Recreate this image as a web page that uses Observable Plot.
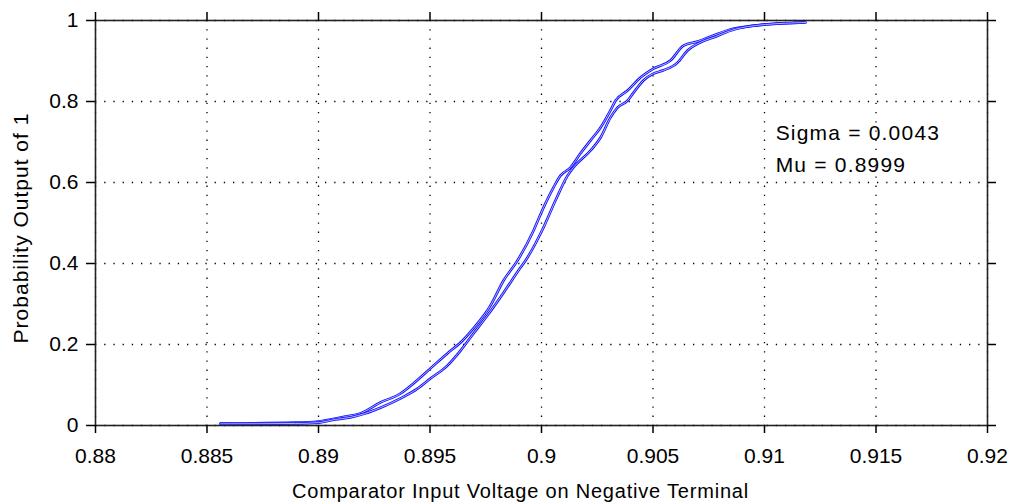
<!DOCTYPE html>
<html>
<head>
<meta charset="utf-8">
<script src="https://cdn.jsdelivr.net/npm/d3@7"></script>
<script src="https://cdn.jsdelivr.net/npm/@observablehq/plot@0.6"></script>
<style>
  html, body { margin: 0; padding: 0; background: #fff; }
  #chart { width: 1010px; height: 504px; }
</style>
</head>
<body>
<div id="chart"></div>
<script>
// ---- data ----
const xTicks = [0.88, 0.885, 0.89, 0.895, 0.9, 0.905, 0.91, 0.915, 0.92];
const xTickLabels = ["0.88", "0.885", "0.89", "0.895", "0.9", "0.905", "0.91", "0.915", "0.92"];
const yTicks = [0, 0.2, 0.4, 0.6, 0.8, 1];
const yTickLabels = ["0", "0.2", "0.4", "0.6", "0.8", "1"];

const upperX = [0.88561, 0.88897, 0.89000, 0.89054, 0.89121, 0.89188, 0.89278, 0.89368, 0.89426, 0.89502,
  0.89578, 0.89637, 0.89695, 0.89771, 0.89830, 0.89892, 0.89964, 0.90009, 0.90054, 0.90085,
  0.90130, 0.90175, 0.90220, 0.90265, 0.90309, 0.90332, 0.90386, 0.90444, 0.90502, 0.90578,
  0.90637, 0.90700, 0.90771, 0.90848, 0.90924, 0.90996, 0.91175];
const upperY = [0.005, 0.007, 0.010, 0.015, 0.022, 0.030, 0.057, 0.079, 0.104, 0.141,
  0.178, 0.205, 0.240, 0.296, 0.358, 0.407, 0.481, 0.538, 0.588, 0.617,
  0.637, 0.672, 0.704, 0.736, 0.778, 0.802, 0.827, 0.859, 0.881, 0.901,
  0.938, 0.948, 0.963, 0.978, 0.985, 0.990, 0.995];

const lowerX = [0.88561, 0.88897, 0.89000, 0.89076, 0.89143, 0.89211, 0.89278, 0.89368, 0.89444, 0.89502,
  0.89578, 0.89637, 0.89695, 0.89758, 0.89830, 0.89906, 0.89928, 0.90009, 0.90063, 0.90117,
  0.90143, 0.90220, 0.90265, 0.90309, 0.90341, 0.90386, 0.90413, 0.90457, 0.90502, 0.90547,
  0.90610, 0.90655, 0.90713, 0.90780, 0.90848, 0.90924, 0.91004, 0.91184];
const lowerY = [0.004, 0.005, 0.007, 0.015, 0.020, 0.030, 0.044, 0.067, 0.091, 0.116,
  0.148, 0.185, 0.227, 0.272, 0.328, 0.390, 0.407, 0.489, 0.556, 0.617,
  0.637, 0.679, 0.711, 0.760, 0.785, 0.802, 0.822, 0.852, 0.869, 0.877,
  0.896, 0.926, 0.946, 0.960, 0.975, 0.985, 0.990, 0.995];

const annoText = ["Sigma = 0.0043", "Mu = 0.8999"];
const annoX = [0.9105, 0.9105];
const annoY = [0.722, 0.642];

const xTitle = "Comparator Input Voltage on Negative Terminal";
const yTitle = "Probability Output of 1";

// ---- build tables ----
const upper = upperX.map((x, i) => ({x, y: upperY[i]}));
const lower = lowerX.map((x, i) => ({x, y: lowerY[i]}));
const anno = annoText.map((t, i) => ({t, x: annoX[i], y: annoY[i]}));
const xFmt = d => xTickLabels[xTicks.findIndex(v => Math.abs(v - d) < 1e-9)];
const yFmt = d => yTickLabels[yTicks.findIndex(v => Math.abs(v - d) < 1e-9)];

const font = "'Liberation Sans', Arial, Helvetica, sans-serif";

const chart = Plot.plot({
  width: 1010,
  height: 504,
  marginLeft: 95,
  marginRight: 23,
  marginTop: 20,
  marginBottom: 79,
  style: {fontFamily: font, fontSize: "21px", background: "#fff", color: "#000", overflow: "visible"},
  x: {domain: [0.88, 0.92], label: null},
  y: {domain: [0, 1], label: null},
  marks: [
    Plot.gridX(xTicks, {stroke: "#000", strokeOpacity: 1, strokeWidth: 1.3, strokeDasharray: "1.3,7.9"}),
    Plot.gridY(yTicks, {stroke: "#000", strokeOpacity: 1, strokeWidth: 1.3, strokeDasharray: "1.3,7.9"}),
    Plot.line(upper, {x: "x", y: "y", stroke: "#1010ff", strokeWidth: 2.6, curve: "monotone-x"}),
    Plot.line(upper, {x: "x", y: "y", stroke: "#c8c8ff", strokeWidth: 0.9, curve: "monotone-x"}),
    Plot.line(lower, {x: "x", y: "y", stroke: "#1010ff", strokeWidth: 2.6, curve: "monotone-x"}),
    Plot.line(lower, {x: "x", y: "y", stroke: "#c8c8ff", strokeWidth: 0.9, curve: "monotone-x"}),
    Plot.frame({stroke: "#222", strokeWidth: 1.6}),
    Plot.axisX(xTicks, {anchor: "bottom", tickSize: 8, tickPadding: 15, tickFormat: xFmt, label: null, fontSize: 21, stroke: "#000", strokeWidth: 1.5}),
    Plot.axisX(xTicks, {anchor: "top", tickSize: 9, tickFormat: () => "", label: null, stroke: "#000", strokeWidth: 1.5}),
    Plot.axisY(yTicks, {anchor: "left", tickSize: 9, tickPadding: 8, tickFormat: yFmt, label: null, fontSize: 21, stroke: "#000", strokeWidth: 1.5}),
    Plot.axisY(yTicks, {anchor: "right", tickSize: 8, tickFormat: () => "", label: null, stroke: "#000", strokeWidth: 1.5}),
    Plot.text(anno, {x: "x", y: "y", text: "t", textAnchor: "start", fontSize: 21, fill: "#000"}),
    Plot.text([xTitle], {frameAnchor: "bottom", dx: -21, dy: 72, text: d => d, textAnchor: "middle", fontSize: 20, fill: "#000"}),
    Plot.text([yTitle], {frameAnchor: "left", dx: -74, dy: 5, rotate: -90, text: d => d, textAnchor: "middle", fontSize: 21, fill: "#000"})
  ]
});

// widen letter spacing of the free text marks (annotation, x title, y title) to match the reference font
const spacing = ["1.2px", "0.8px", "1px"];
d3.select(chart).selectAll('g[aria-label="text"]').each(function(_, i) {
  d3.select(this).style("letter-spacing", spacing[i] || null);
});

document.getElementById("chart").appendChild(chart);
</script>
</body>
</html>
